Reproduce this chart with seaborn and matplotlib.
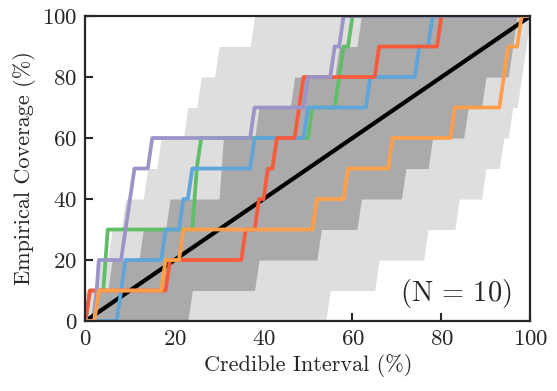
import numpy as np
import pandas as pd
import matplotlib
matplotlib.use("Agg")
import matplotlib.pyplot as plt
import seaborn as sns

# DATA ---------------------------------------------------------------------
# x positions (credible interval, %) where each curve steps up by 10 %
levels = [10, 20, 30, 40, 50, 60, 70, 80, 90, 100]

green_jumps = [0.8, 4.6, 4.6, 24.4, 25.0, 25.4, 50.8, 56.8, 57.4, 59.5]
blue_jumps = [7.2, 8.7, 18.0, 21.6, 23.2, 37.4, 49.6, 64.0, 74.3, 77.5]
red_jumps = [0.5, 18.2, 35.9, 38.8, 40.6, 42.2, 47.2, 49.0, 65.1, 79.5]
purple_jumps = [2.7, 3.0, 8.5, 9.5, 10.5, 14.3, 38.0, 49.9, 56.0, 57.7]
orange_jumps = [2.2, 17.5, 21.5, 51.5, 58.1, 68.4, 82.4, 93.5, 94.5, 97.6]

# band edges (same convention: x where the edge steps up by 10 %)
light_upper = [0.0, 2.5, 5.3, 9.0, 13.5, 16.3, 22.2, 25.7, 29.5, 37.5]
light_lower = [54.8, 66.0, 76.5, 83.5, 90.0, 93.5, 95.8, 97.6, 99.0, 99.5]
dark_upper = [2.0, 6.0, 12.3, 18.8, 30.2, 30.5, 39.0, 47.0, 56.3, 61.8]
dark_lower = [23.9, 38.3, 52.7, 61.4, 72.0, 77.8, 85.7, 89.7, 95.5, 97.0]

series_names = ["green", "blue", "red", "purple", "orange"]
series_jumps = [green_jumps, blue_jumps, red_jumps, purple_jumps, orange_jumps]
series_colors = ["#60BD68", "#5DA5DA", "#FA5A3C", "#9A94C8", "#FF9F4A"]

# STYLE --------------------------------------------------------------------
sns.set_style("ticks")
plt.rcParams["font.family"] = "cmr10"
plt.rcParams["mathtext.fontset"] = "cm"
plt.rcParams["axes.formatter.use_mathtext"] = True

x_grid = np.linspace(0, 100, 101)


def step_curve(jumps):
    # empirical coverage: number of steps already passed at each grid point
    return 10.0 * np.searchsorted(np.sort(jumps), x_grid, side="right")


fig = plt.figure(figsize=(5.57, 3.91), dpi=100)
ax = fig.add_axes([0.1535, 0.179, 0.7989, 0.780])

ax.fill_between(x_grid, step_curve(light_lower), step_curve(light_upper),
                color="#DEDEDE", lw=0)
ax.fill_between(x_grid, step_curve(dark_lower), step_curve(dark_upper),
                color="#AAAAAA", lw=0)

ax.plot([0, 100], [0, 100], color="black", lw=3.0, zorder=3)

rows = []
for name, jumps in zip(series_names, series_jumps):
    for xv, yv in zip(x_grid, step_curve(jumps)):
        rows.append({"series": name, "x": xv, "y": yv})
lines = pd.DataFrame(rows)

sns.lineplot(data=lines, x="x", y="y", hue="series",
             palette=dict(zip(series_names, series_colors)),
             lw=2.7, legend=False, ax=ax, zorder=4)

ax.set_xlim(0, 100)
ax.set_ylim(0, 100)
ax.set_xticks([0, 20, 40, 60, 80, 100])
ax.set_yticks([0, 20, 40, 60, 80, 100])
ax.tick_params(direction="in", length=6, width=1.5, labelsize=16.5, pad=6)
for s in ax.spines.values():
    s.set_linewidth(1.6)
    s.set_zorder(5)

ax.set_xlabel("Credible Interval (%)", fontsize=16)
ax.set_ylabel("Empirical Coverage (%)", fontsize=16)
ax.text(0.958, 0.035, r"$(\mathrm{N}\,=\,10)$", transform=ax.transAxes,
        ha="right", va="bottom", fontsize=20.5)

fig.savefig("out.png", dpi=100)
